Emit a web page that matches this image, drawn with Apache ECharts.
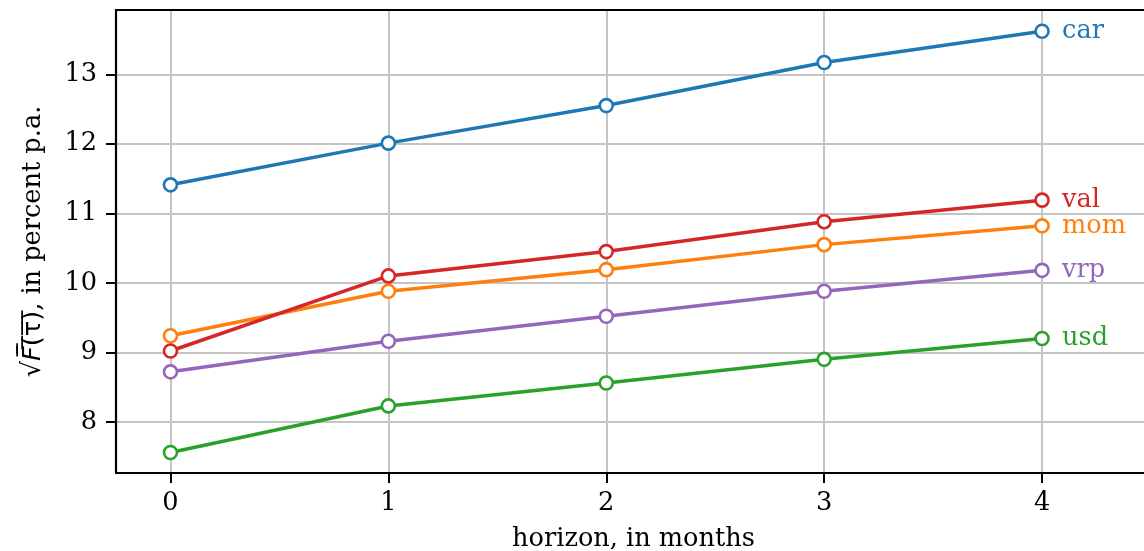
<!DOCTYPE html>
<html>
<head>
<meta charset="utf-8">
<script src="https://cdn.jsdelivr.net/npm/echarts@6/dist/echarts.min.js"></script>
<style>
  html, body { margin: 0; padding: 0; background: #fff; }
  #chart { width: 1144px; height: 551px; }
</style>
</head>
<body>
<div id="chart"></div>
<script>
// Horizons (months) and the value of sqrt(F(tau)) per strategy, percent p.a.
const horizons = [0, 1, 2, 3, 4];
const car = [11.41, 12.01, 12.55, 13.17, 13.62];
const mom = [9.24, 9.88, 10.19, 10.55, 10.82];
const val = [9.02, 10.10, 10.45, 10.88, 11.19];
const vrp = [8.72, 9.16, 9.52, 9.88, 10.18];
const usd = [7.56, 8.23, 8.56, 8.90, 9.20];
const xTicks = [0, 1, 2, 3, 4];
const yTicks = [8, 9, 10, 11, 12, 13];

const FONT = 'DejaVu Serif';
const MATH = 'DejaVu Sans';
const FS = 25.6;
const colors = { car: '#1f77b4', mom: '#ff7f0e', val: '#d62728', vrp: '#9467bd', usd: '#2ca02c' };
const seriesData = { car, mom, val, vrp, usd };

function makeSeries(name) {
  const c = colors[name];
  return {
    name: name,
    type: 'line',
    data: horizons.map((h, i) => [h, seriesData[name][i]]),
    symbol: 'circle',
    symbolSize: 13,
    showAllSymbol: true,
    lineStyle: { color: c, width: 3.5 },
    itemStyle: { color: '#fff', borderColor: c, borderWidth: 2.6 },
    emphasis: { disabled: true },
    endLabel: {
      show: true, formatter: name, color: c, distance: 20,
      fontFamily: FONT, fontSize: FS
    },
    animation: false
  };
}

const axisLineStyle = { color: '#000', width: 2.2 };
const gridLine = { show: true, lineStyle: { color: '#c4c4c4', width: 2 } };

const chart = echarts.init(document.getElementById('chart'), null, { renderer: 'canvas' });
chart.setOption({
  backgroundColor: '#fff',
  animation: false,
  grid: { left: 116, top: 10, bottom: 78, right: -7, containLabel: false, outerBoundsMode: 'none' },
  xAxis: [{
    type: 'value', min: -0.25, max: 4.5,
    name: 'horizon, in months', nameLocation: 'middle', nameGap: 53,
    nameTextStyle: { fontFamily: FONT, fontSize: FS, color: '#000' },
    axisLine: { show: true, onZero: false, lineStyle: axisLineStyle },
    axisTick: { show: true, length: 10, lineStyle: { color: '#000', width: 2 }, customValues: xTicks },
    axisLabel: { fontFamily: FONT, fontSize: FS, color: '#000', margin: 17, customValues: xTicks },
    splitLine: gridLine
  }, {
    type: 'value', position: 'top', min: -0.25, max: 4.5,
    axisLine: { show: true, onZero: false, lineStyle: axisLineStyle },
    axisTick: { show: false }, axisLabel: { show: false }, splitLine: { show: false }
  }],
  yAxis: {
    type: 'value', min: 7.265, max: 13.925,
    name: '{r|√}{f|F\u0304\u0305}{m|(\u0305τ\u0305)\u0305}{n|, in percent p.a.}',
    nameLocation: 'middle', nameGap: 70, nameRotate: 90,
    nameTextStyle: {
      fontFamily: FONT, fontSize: FS, color: '#000',
      rich: {
        r: { fontFamily: MATH, fontSize: FS, color: '#000' },
        f: { fontFamily: MATH, fontSize: FS, color: '#000', fontStyle: 'italic' },
        m: { fontFamily: MATH, fontSize: FS, color: '#000' },
        n: { fontFamily: FONT, fontSize: FS, color: '#000' }
      }
    },
    axisLine: { show: true, onZero: false, lineStyle: axisLineStyle },
    axisTick: { show: true, length: 10, lineStyle: { color: '#000', width: 2 }, customValues: yTicks },
    axisLabel: { fontFamily: FONT, fontSize: FS, color: '#000', margin: 19, customValues: yTicks },
    splitLine: gridLine
  },
  series: ['car', 'mom', 'val', 'vrp', 'usd'].map(makeSeries)
});
</script>
</body>
</html>
